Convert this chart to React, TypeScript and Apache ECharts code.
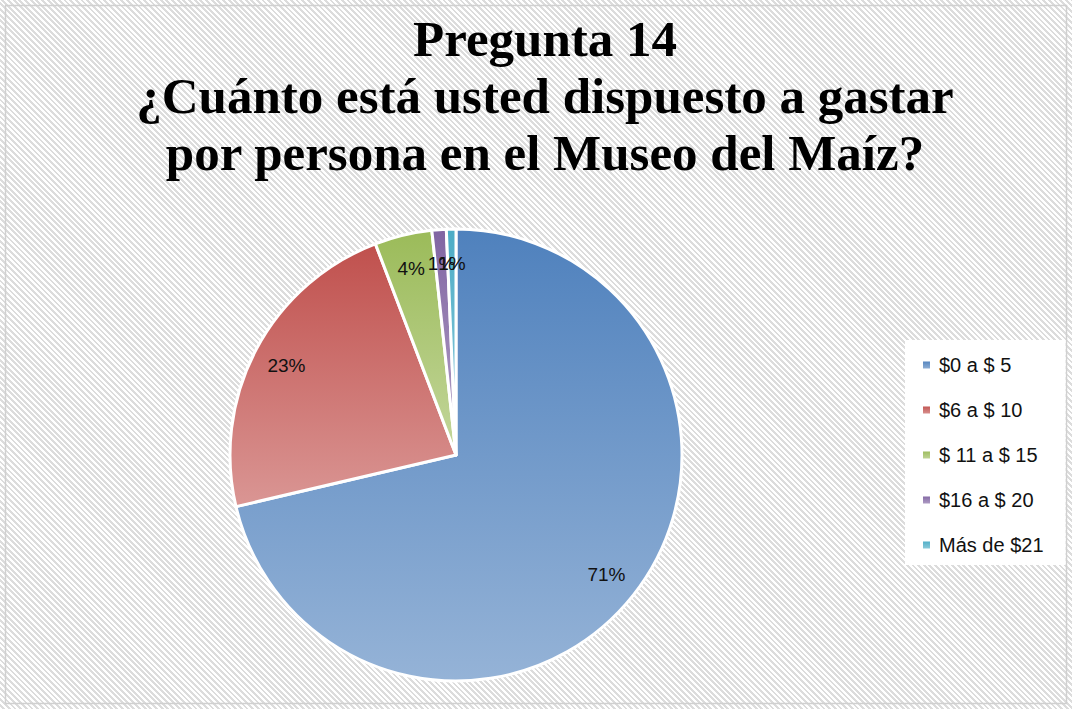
import React, { useEffect, useRef } from "react";
import * as echarts from "echarts";

const categories = ["$0 a $ 5", "$6 a $ 10", "$ 11 a $ 15", "$16 a $ 20", "Más de $21"];
const values = [209, 67, 12, 3, 2];
const percentLabels = ["71%", "23%", "4%", "1%", "1%"];
const topColors = ["#4F81BD", "#C0504D", "#9BBB59", "#8064A2", "#4BACC6"];
const bottomColors = ["#95B3D7", "#DA9694", "#C3D69B", "#B3A2C7", "#92CDDC"];
const titleLines = ["Pregunta 14", "¿Cuánto está usted dispuesto a gastar", "por persona en el Museo del Maíz?"];

export default function App() {
  const ref = useRef<HTMLDivElement>(null);
  useEffect(() => {
    if (!ref.current) return;
    const chart = echarts.init(ref.current, null, { renderer: "svg" });
    const grad = (i: number) =>
      new echarts.graphic.LinearGradient(0, 0, 0, 1, [
        { offset: 0, color: topColors[i] },
        { offset: 1, color: bottomColors[i] },
      ]);
    const data = categories.map((c, i) => ({
      name: c,
      value: values[i],
      itemStyle: { color: grad(i) },
    }));
    chart.setOption({
      animation: false,
      title: {
        text: titleLines.join("\n"),
        left: 540,
        top: 5,
        textAlign: "center",
        textStyle: {
          fontFamily: "Liberation Serif",
          fontWeight: "bold",
          fontSize: 51,
          lineHeight: 57,
          color: "#000",
        },
      },
      graphic: [
        {
          type: "rect",
          shape: { x: 5.5, y: 5.5, width: 1061, height: 698 },
          style: { fill: "none", stroke: "#d0d0d0", lineWidth: 1.5 },
          silent: true,
        },
      ],
      legend: {
        orient: "vertical",
        left: 905,
        top: 340,
        backgroundColor: "#ffffff",
        padding: [15, 22, 10, 16],
        itemGap: 25,
        itemWidth: 9,
        itemHeight: 9,
        icon: "rect",
        data: categories,
        textStyle: {
          fontFamily: "Liberation Sans",
          fontSize: 20,
          lineHeight: 20,
          color: "#111",
          padding: [0, 0, 0, 3],
        },
      },
      series: [
        {
          type: "pie",
          center: [456, 455],
          radius: [0, 226],
          startAngle: 90,
          clockwise: true,
          silent: true,
          label: { show: false },
          labelLine: { show: false },
          itemStyle: { borderColor: "#ffffff", borderWidth: 3 },
          data,
        },
        {
          type: "pie",
          center: [456, 455],
          radius: [152, 226],
          startAngle: 90,
          clockwise: true,
          silent: true,
          legendHoverLink: false,
          avoidLabelOverlap: false,
          labelLayout: { hideOverlap: false },
          itemStyle: { color: "rgba(0,0,0,0)" },
          label: {
            show: true,
            position: "inside",
            fontFamily: "Liberation Sans",
            fontSize: 19,
            color: "#111",
            formatter: (p: any) => percentLabels[p.dataIndex],
          },
          labelLine: { show: false },
          data: categories.map((c, i) => ({ name: c + " ", value: values[i] })),
        },
      ],
    });
    return () => chart.dispose();
  }, []);
  return (
    <div
      ref={ref}
      style={{
        position: "fixed",
        left: 0,
        top: 0,
        width: 1072,
        height: 709,
        background: "repeating-linear-gradient(45deg, #ffffff 0px, #ffffff 2px, #dcdcdc 2px, #dcdcdc 4px)",
      }}
    />
  );
}
